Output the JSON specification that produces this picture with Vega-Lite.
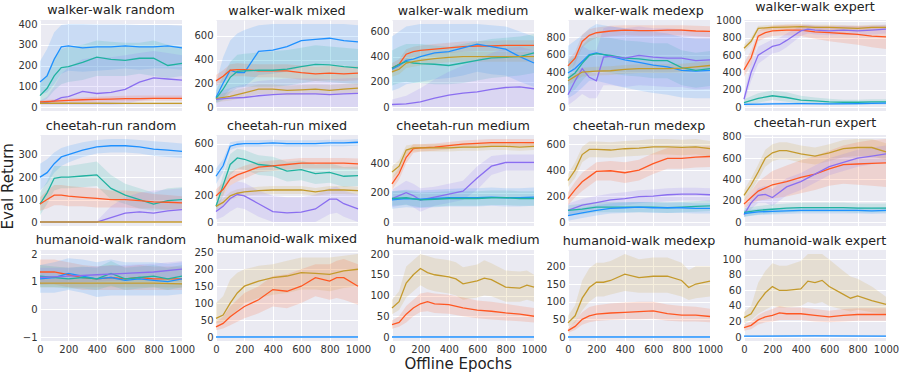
{
"$schema":"https://vega.github.io/schema/vega-lite/v6.json",
"padding":{"left":0,"top":0,"right":10,"bottom":0},
"background":"white",
"config":{"font":"DejaVu Sans","view":{"fill":"#EAEAF2","stroke":null},
"axis":{"domain":false,"ticks":false,"gridColor":"white","gridWidth":1,"labelFontSize":10,"labelColor":"#333","labelPadding":3,"format":"d"},
"axisY":{"tickCount":4},
"axisX":{"labelOverlap":false,"labelFlush":false,"labelBound":false},
"header":{"labelFontSize":12.7,"labelColor":"#222","labelPadding":2},
"title":{"fontWeight":"normal","fontSize":15,"color":"#222","anchor":"middle"}},
"title":{"text":"Eval Return","orient":"left","offset":2,"anchor":"middle"},
"vconcat":[{
"title":{"text":"Offline Epochs","orient":"bottom","offset":3,"anchor":"middle"},
"bounds":"flush",
"data":{"values":[
{"p":"A1","s":"B","x":0,"y":120,"lo":60,"hi":220},{"p":"A1","s":"B","x":50,"y":150,"lo":70,"hi":280},{"p":"A1","s":"B","x":100,"y":230,"lo":110,"hi":360},{"p":"A1","s":"B","x":150,"y":290,"lo":160,"hi":395},{"p":"A1","s":"B","x":200,"y":295,"lo":175,"hi":400},{"p":"A1","s":"B","x":300,"y":285,"lo":170,"hi":400},{"p":"A1","s":"B","x":400,"y":290,"lo":175,"hi":398},{"p":"A1","s":"B","x":500,"y":290,"lo":180,"hi":398},{"p":"A1","s":"B","x":600,"y":295,"lo":185,"hi":398},{"p":"A1","s":"B","x":700,"y":290,"lo":180,"hi":395},{"p":"A1","s":"B","x":800,"y":290,"lo":185,"hi":395},{"p":"A1","s":"B","x":900,"y":295,"lo":185,"hi":395},{"p":"A1","s":"B","x":1000,"y":285,"lo":180,"hi":392},
{"p":"A1","s":"T","x":0,"y":55,"lo":20,"hi":110},{"p":"A1","s":"T","x":50,"y":90,"lo":40,"hi":160},{"p":"A1","s":"T","x":100,"y":150,"lo":80,"hi":240},{"p":"A1","s":"T","x":150,"y":190,"lo":110,"hi":280},{"p":"A1","s":"T","x":200,"y":195,"lo":120,"hi":290},{"p":"A1","s":"T","x":300,"y":215,"lo":130,"hi":300},{"p":"A1","s":"T","x":400,"y":240,"lo":150,"hi":320},{"p":"A1","s":"T","x":500,"y":230,"lo":150,"hi":315},{"p":"A1","s":"T","x":600,"y":225,"lo":150,"hi":310},{"p":"A1","s":"T","x":700,"y":235,"lo":160,"hi":310},{"p":"A1","s":"T","x":800,"y":235,"lo":150,"hi":320},{"p":"A1","s":"T","x":900,"y":200,"lo":140,"hi":300},{"p":"A1","s":"T","x":1000,"y":210,"lo":150,"hi":290},
{"p":"A1","s":"P","x":0,"y":20,"lo":10,"hi":30},{"p":"A1","s":"P","x":50,"y":22,"lo":10,"hi":50},{"p":"A1","s":"P","x":100,"y":30,"lo":10,"hi":100},{"p":"A1","s":"P","x":150,"y":45,"lo":10,"hi":160},{"p":"A1","s":"P","x":200,"y":50,"lo":10,"hi":190},{"p":"A1","s":"P","x":300,"y":75,"lo":10,"hi":230},{"p":"A1","s":"P","x":400,"y":65,"lo":10,"hi":240},{"p":"A1","s":"P","x":500,"y":70,"lo":10,"hi":240},{"p":"A1","s":"P","x":600,"y":85,"lo":15,"hi":250},{"p":"A1","s":"P","x":700,"y":120,"lo":30,"hi":260},{"p":"A1","s":"P","x":800,"y":140,"lo":40,"hi":270},{"p":"A1","s":"P","x":900,"y":135,"lo":40,"hi":260},{"p":"A1","s":"P","x":1000,"y":130,"lo":40,"hi":250},
{"p":"A1","s":"R","x":0,"y":25,"lo":18,"hi":32},{"p":"A1","s":"R","x":100,"y":28,"lo":20,"hi":36},{"p":"A1","s":"R","x":200,"y":32,"lo":22,"hi":42},{"p":"A1","s":"R","x":300,"y":35,"lo":24,"hi":46},{"p":"A1","s":"R","x":400,"y":37,"lo":25,"hi":50},{"p":"A1","s":"R","x":500,"y":38,"lo":26,"hi":52},{"p":"A1","s":"R","x":600,"y":40,"lo":28,"hi":54},{"p":"A1","s":"R","x":700,"y":40,"lo":28,"hi":55},{"p":"A1","s":"R","x":800,"y":42,"lo":30,"hi":56},{"p":"A1","s":"R","x":900,"y":42,"lo":30,"hi":56},{"p":"A1","s":"R","x":1000,"y":42,"lo":30,"hi":55},
{"p":"A1","s":"G","x":0,"y":18,"lo":14,"hi":22},{"p":"A1","s":"G","x":200,"y":18,"lo":14,"hi":22},{"p":"A1","s":"G","x":400,"y":18,"lo":14,"hi":22},{"p":"A1","s":"G","x":600,"y":17,"lo":13,"hi":21},{"p":"A1","s":"G","x":800,"y":17,"lo":13,"hi":21},{"p":"A1","s":"G","x":1000,"y":17,"lo":13,"hi":21},
{"p":"A2","s":"B","x":0,"y":80,"lo":40,"hi":200},{"p":"A2","s":"B","x":50,"y":200,"lo":80,"hi":420},{"p":"A2","s":"B","x":100,"y":310,"lo":150,"hi":560},{"p":"A2","s":"B","x":150,"y":290,"lo":170,"hi":620},{"p":"A2","s":"B","x":200,"y":290,"lo":170,"hi":650},{"p":"A2","s":"B","x":300,"y":470,"lo":270,"hi":690},{"p":"A2","s":"B","x":400,"y":480,"lo":280,"hi":700},{"p":"A2","s":"B","x":500,"y":510,"lo":300,"hi":700},{"p":"A2","s":"B","x":600,"y":560,"lo":340,"hi":700},{"p":"A2","s":"B","x":700,"y":570,"lo":350,"hi":700},{"p":"A2","s":"B","x":800,"y":580,"lo":360,"hi":700},{"p":"A2","s":"B","x":900,"y":560,"lo":350,"hi":700},{"p":"A2","s":"B","x":1000,"y":550,"lo":340,"hi":690},
{"p":"A2","s":"R","x":0,"y":220,"lo":180,"hi":270},{"p":"A2","s":"R","x":50,"y":260,"lo":210,"hi":310},{"p":"A2","s":"R","x":100,"y":310,"lo":260,"hi":360},{"p":"A2","s":"R","x":150,"y":315,"lo":260,"hi":370},{"p":"A2","s":"R","x":200,"y":315,"lo":260,"hi":365},{"p":"A2","s":"R","x":300,"y":305,"lo":250,"hi":360},{"p":"A2","s":"R","x":400,"y":305,"lo":250,"hi":360},{"p":"A2","s":"R","x":500,"y":305,"lo":245,"hi":360},{"p":"A2","s":"R","x":600,"y":290,"lo":230,"hi":350},{"p":"A2","s":"R","x":700,"y":280,"lo":220,"hi":340},{"p":"A2","s":"R","x":800,"y":285,"lo":225,"hi":345},{"p":"A2","s":"R","x":900,"y":280,"lo":220,"hi":340},{"p":"A2","s":"R","x":1000,"y":285,"lo":225,"hi":345},
{"p":"A2","s":"T","x":0,"y":70,"lo":30,"hi":140},{"p":"A2","s":"T","x":50,"y":150,"lo":60,"hi":260},{"p":"A2","s":"T","x":100,"y":250,"lo":120,"hi":380},{"p":"A2","s":"T","x":150,"y":300,"lo":160,"hi":440},{"p":"A2","s":"T","x":200,"y":305,"lo":170,"hi":450},{"p":"A2","s":"T","x":300,"y":310,"lo":170,"hi":460},{"p":"A2","s":"T","x":400,"y":310,"lo":170,"hi":470},{"p":"A2","s":"T","x":500,"y":320,"lo":180,"hi":480},{"p":"A2","s":"T","x":600,"y":340,"lo":200,"hi":500},{"p":"A2","s":"T","x":700,"y":360,"lo":220,"hi":520},{"p":"A2","s":"T","x":800,"y":355,"lo":210,"hi":510},{"p":"A2","s":"T","x":900,"y":340,"lo":200,"hi":500},{"p":"A2","s":"T","x":1000,"y":330,"lo":190,"hi":490},
{"p":"A2","s":"G","x":0,"y":70,"lo":40,"hi":100},{"p":"A2","s":"G","x":100,"y":90,"lo":55,"hi":130},{"p":"A2","s":"G","x":200,"y":120,"lo":80,"hi":160},{"p":"A2","s":"G","x":300,"y":150,"lo":110,"hi":190},{"p":"A2","s":"G","x":400,"y":150,"lo":110,"hi":190},{"p":"A2","s":"G","x":500,"y":140,"lo":100,"hi":180},{"p":"A2","s":"G","x":600,"y":145,"lo":105,"hi":185},{"p":"A2","s":"G","x":700,"y":150,"lo":110,"hi":190},{"p":"A2","s":"G","x":800,"y":140,"lo":100,"hi":185},{"p":"A2","s":"G","x":900,"y":150,"lo":110,"hi":195},{"p":"A2","s":"G","x":1000,"y":160,"lo":120,"hi":200},
{"p":"A2","s":"P","x":0,"y":65,"lo":0,"hi":120},{"p":"A2","s":"P","x":100,"y":75,"lo":0,"hi":160},{"p":"A2","s":"P","x":200,"y":80,"lo":0,"hi":190},{"p":"A2","s":"P","x":300,"y":95,"lo":0,"hi":220},{"p":"A2","s":"P","x":400,"y":105,"lo":0,"hi":230},{"p":"A2","s":"P","x":500,"y":110,"lo":0,"hi":240},{"p":"A2","s":"P","x":600,"y":110,"lo":0,"hi":240},{"p":"A2","s":"P","x":700,"y":110,"lo":0,"hi":240},{"p":"A2","s":"P","x":800,"y":105,"lo":0,"hi":235},{"p":"A2","s":"P","x":900,"y":110,"lo":0,"hi":240},{"p":"A2","s":"P","x":1000,"y":115,"lo":0,"hi":245},
{"p":"A3","s":"R","x":0,"y":310,"lo":270,"hi":350},{"p":"A3","s":"R","x":50,"y":340,"lo":300,"hi":380},{"p":"A3","s":"R","x":100,"y":420,"lo":380,"hi":460},{"p":"A3","s":"R","x":150,"y":440,"lo":400,"hi":480},{"p":"A3","s":"R","x":200,"y":450,"lo":410,"hi":490},{"p":"A3","s":"R","x":300,"y":460,"lo":420,"hi":500},{"p":"A3","s":"R","x":400,"y":470,"lo":430,"hi":510},{"p":"A3","s":"R","x":500,"y":480,"lo":440,"hi":520},{"p":"A3","s":"R","x":600,"y":485,"lo":445,"hi":525},{"p":"A3","s":"R","x":700,"y":485,"lo":445,"hi":525},{"p":"A3","s":"R","x":800,"y":490,"lo":450,"hi":530},{"p":"A3","s":"R","x":900,"y":490,"lo":450,"hi":530},{"p":"A3","s":"R","x":1000,"y":490,"lo":450,"hi":530},
{"p":"A3","s":"B","x":0,"y":300,"lo":130,"hi":560},{"p":"A3","s":"B","x":50,"y":330,"lo":150,"hi":600},{"p":"A3","s":"B","x":100,"y":370,"lo":180,"hi":640},{"p":"A3","s":"B","x":150,"y":380,"lo":190,"hi":650},{"p":"A3","s":"B","x":200,"y":400,"lo":200,"hi":660},{"p":"A3","s":"B","x":300,"y":430,"lo":220,"hi":660},{"p":"A3","s":"B","x":400,"y":440,"lo":230,"hi":660},{"p":"A3","s":"B","x":500,"y":470,"lo":250,"hi":660},{"p":"A3","s":"B","x":600,"y":500,"lo":280,"hi":660},{"p":"A3","s":"B","x":700,"y":480,"lo":260,"hi":650},{"p":"A3","s":"B","x":800,"y":460,"lo":250,"hi":640},{"p":"A3","s":"B","x":900,"y":400,"lo":200,"hi":600},{"p":"A3","s":"B","x":1000,"y":350,"lo":160,"hi":560},
{"p":"A3","s":"T","x":0,"y":310,"lo":170,"hi":450},{"p":"A3","s":"T","x":50,"y":340,"lo":190,"hi":480},{"p":"A3","s":"T","x":100,"y":360,"lo":200,"hi":500},{"p":"A3","s":"T","x":150,"y":350,"lo":190,"hi":500},{"p":"A3","s":"T","x":200,"y":345,"lo":190,"hi":500},{"p":"A3","s":"T","x":300,"y":340,"lo":180,"hi":490},{"p":"A3","s":"T","x":400,"y":330,"lo":180,"hi":480},{"p":"A3","s":"T","x":500,"y":350,"lo":190,"hi":500},{"p":"A3","s":"T","x":600,"y":370,"lo":210,"hi":520},{"p":"A3","s":"T","x":700,"y":390,"lo":230,"hi":540},{"p":"A3","s":"T","x":800,"y":395,"lo":240,"hi":550},{"p":"A3","s":"T","x":900,"y":400,"lo":250,"hi":560},{"p":"A3","s":"T","x":1000,"y":430,"lo":270,"hi":580},
{"p":"A3","s":"G","x":0,"y":280,"lo":240,"hi":320},{"p":"A3","s":"G","x":50,"y":300,"lo":260,"hi":340},{"p":"A3","s":"G","x":100,"y":350,"lo":310,"hi":390},{"p":"A3","s":"G","x":150,"y":360,"lo":320,"hi":400},{"p":"A3","s":"G","x":200,"y":370,"lo":330,"hi":410},{"p":"A3","s":"G","x":300,"y":385,"lo":345,"hi":425},{"p":"A3","s":"G","x":400,"y":395,"lo":355,"hi":435},{"p":"A3","s":"G","x":500,"y":400,"lo":360,"hi":440},{"p":"A3","s":"G","x":600,"y":400,"lo":360,"hi":440},{"p":"A3","s":"G","x":700,"y":400,"lo":360,"hi":440},{"p":"A3","s":"G","x":800,"y":400,"lo":360,"hi":440},{"p":"A3","s":"G","x":900,"y":400,"lo":360,"hi":440},{"p":"A3","s":"G","x":1000,"y":400,"lo":360,"hi":440},
{"p":"A3","s":"P","x":0,"y":20,"lo":0,"hi":60},{"p":"A3","s":"P","x":100,"y":25,"lo":0,"hi":90},{"p":"A3","s":"P","x":200,"y":40,"lo":0,"hi":150},{"p":"A3","s":"P","x":300,"y":70,"lo":0,"hi":220},{"p":"A3","s":"P","x":400,"y":95,"lo":0,"hi":280},{"p":"A3","s":"P","x":500,"y":110,"lo":0,"hi":330},{"p":"A3","s":"P","x":600,"y":120,"lo":0,"hi":380},{"p":"A3","s":"P","x":700,"y":140,"lo":0,"hi":430},{"p":"A3","s":"P","x":800,"y":155,"lo":0,"hi":470},{"p":"A3","s":"P","x":900,"y":160,"lo":0,"hi":480},{"p":"A3","s":"P","x":1000,"y":145,"lo":0,"hi":450},
{"p":"A4","s":"R","x":0,"y":470,"lo":400,"hi":540},{"p":"A4","s":"R","x":50,"y":560,"lo":490,"hi":630},{"p":"A4","s":"R","x":100,"y":750,"lo":680,"hi":830},{"p":"A4","s":"R","x":150,"y":820,"lo":750,"hi":890},{"p":"A4","s":"R","x":200,"y":850,"lo":790,"hi":910},{"p":"A4","s":"R","x":300,"y":870,"lo":810,"hi":930},{"p":"A4","s":"R","x":400,"y":880,"lo":820,"hi":935},{"p":"A4","s":"R","x":500,"y":875,"lo":815,"hi":935},{"p":"A4","s":"R","x":600,"y":875,"lo":815,"hi":935},{"p":"A4","s":"R","x":700,"y":880,"lo":820,"hi":935},{"p":"A4","s":"R","x":800,"y":880,"lo":820,"hi":935},{"p":"A4","s":"R","x":900,"y":870,"lo":810,"hi":930},{"p":"A4","s":"R","x":1000,"y":865,"lo":800,"hi":925},
{"p":"A4","s":"B","x":0,"y":390,"lo":100,"hi":700},{"p":"A4","s":"B","x":50,"y":440,"lo":150,"hi":760},{"p":"A4","s":"B","x":100,"y":520,"lo":220,"hi":820},{"p":"A4","s":"B","x":150,"y":600,"lo":300,"hi":900},{"p":"A4","s":"B","x":200,"y":620,"lo":300,"hi":950},{"p":"A4","s":"B","x":300,"y":580,"lo":260,"hi":920},{"p":"A4","s":"B","x":400,"y":540,"lo":220,"hi":900},{"p":"A4","s":"B","x":500,"y":510,"lo":190,"hi":880},{"p":"A4","s":"B","x":600,"y":480,"lo":160,"hi":860},{"p":"A4","s":"B","x":700,"y":460,"lo":140,"hi":840},{"p":"A4","s":"B","x":800,"y":420,"lo":110,"hi":800},{"p":"A4","s":"B","x":900,"y":410,"lo":100,"hi":780},{"p":"A4","s":"B","x":1000,"y":420,"lo":100,"hi":780},
{"p":"A4","s":"T","x":0,"y":330,"lo":150,"hi":520},{"p":"A4","s":"T","x":50,"y":390,"lo":200,"hi":580},{"p":"A4","s":"T","x":100,"y":500,"lo":300,"hi":700},{"p":"A4","s":"T","x":150,"y":590,"lo":390,"hi":790},{"p":"A4","s":"T","x":200,"y":610,"lo":410,"hi":800},{"p":"A4","s":"T","x":300,"y":590,"lo":390,"hi":790},{"p":"A4","s":"T","x":400,"y":560,"lo":360,"hi":760},{"p":"A4","s":"T","x":500,"y":550,"lo":350,"hi":750},{"p":"A4","s":"T","x":600,"y":530,"lo":330,"hi":730},{"p":"A4","s":"T","x":700,"y":530,"lo":330,"hi":730},{"p":"A4","s":"T","x":800,"y":450,"lo":250,"hi":650},{"p":"A4","s":"T","x":900,"y":420,"lo":220,"hi":620},{"p":"A4","s":"T","x":1000,"y":440,"lo":240,"hi":640},
{"p":"A4","s":"P","x":0,"y":140,"lo":20,"hi":300},{"p":"A4","s":"P","x":50,"y":300,"lo":80,"hi":550},{"p":"A4","s":"P","x":100,"y":440,"lo":150,"hi":700},{"p":"A4","s":"P","x":150,"y":340,"lo":100,"hi":650},{"p":"A4","s":"P","x":200,"y":300,"lo":100,"hi":650},{"p":"A4","s":"P","x":250,"y":570,"lo":250,"hi":900},{"p":"A4","s":"P","x":300,"y":580,"lo":250,"hi":920},{"p":"A4","s":"P","x":400,"y":560,"lo":230,"hi":900},{"p":"A4","s":"P","x":500,"y":590,"lo":250,"hi":920},{"p":"A4","s":"P","x":600,"y":570,"lo":240,"hi":900},{"p":"A4","s":"P","x":700,"y":560,"lo":230,"hi":900},{"p":"A4","s":"P","x":800,"y":560,"lo":230,"hi":890},{"p":"A4","s":"P","x":900,"y":530,"lo":200,"hi":860},{"p":"A4","s":"P","x":1000,"y":540,"lo":210,"hi":870},
{"p":"A4","s":"G","x":0,"y":300,"lo":250,"hi":350},{"p":"A4","s":"G","x":50,"y":350,"lo":300,"hi":400},{"p":"A4","s":"G","x":100,"y":400,"lo":350,"hi":450},{"p":"A4","s":"G","x":200,"y":410,"lo":360,"hi":460},{"p":"A4","s":"G","x":300,"y":415,"lo":365,"hi":465},{"p":"A4","s":"G","x":400,"y":430,"lo":380,"hi":480},{"p":"A4","s":"G","x":500,"y":440,"lo":390,"hi":490},{"p":"A4","s":"G","x":600,"y":440,"lo":390,"hi":490},{"p":"A4","s":"G","x":700,"y":440,"lo":390,"hi":490},{"p":"A4","s":"G","x":800,"y":445,"lo":395,"hi":495},{"p":"A4","s":"G","x":900,"y":460,"lo":410,"hi":510},{"p":"A4","s":"G","x":1000,"y":475,"lo":425,"hi":525},
{"p":"A5","s":"G","x":0,"y":680,"lo":640,"hi":720},{"p":"A5","s":"G","x":50,"y":760,"lo":720,"hi":800},{"p":"A5","s":"G","x":100,"y":910,"lo":880,"hi":940},{"p":"A5","s":"G","x":200,"y":920,"lo":890,"hi":950},{"p":"A5","s":"G","x":300,"y":925,"lo":895,"hi":955},{"p":"A5","s":"G","x":400,"y":930,"lo":900,"hi":960},{"p":"A5","s":"G","x":500,"y":920,"lo":890,"hi":950},{"p":"A5","s":"G","x":600,"y":920,"lo":890,"hi":950},{"p":"A5","s":"G","x":700,"y":915,"lo":885,"hi":945},{"p":"A5","s":"G","x":800,"y":910,"lo":880,"hi":940},{"p":"A5","s":"G","x":900,"y":920,"lo":890,"hi":950},{"p":"A5","s":"G","x":1000,"y":920,"lo":890,"hi":950},
{"p":"A5","s":"R","x":0,"y":430,"lo":350,"hi":510},{"p":"A5","s":"R","x":50,"y":570,"lo":490,"hi":650},{"p":"A5","s":"R","x":100,"y":820,"lo":760,"hi":880},{"p":"A5","s":"R","x":150,"y":860,"lo":800,"hi":920},{"p":"A5","s":"R","x":200,"y":880,"lo":820,"hi":940},{"p":"A5","s":"R","x":300,"y":890,"lo":830,"hi":950},{"p":"A5","s":"R","x":400,"y":890,"lo":820,"hi":950},{"p":"A5","s":"R","x":500,"y":870,"lo":790,"hi":940},{"p":"A5","s":"R","x":600,"y":860,"lo":760,"hi":940},{"p":"A5","s":"R","x":700,"y":850,"lo":740,"hi":940},{"p":"A5","s":"R","x":800,"y":840,"lo":720,"hi":940},{"p":"A5","s":"R","x":900,"y":820,"lo":690,"hi":940},{"p":"A5","s":"R","x":1000,"y":810,"lo":670,"hi":940},
{"p":"A5","s":"P","x":0,"y":90,"lo":40,"hi":160},{"p":"A5","s":"P","x":50,"y":400,"lo":300,"hi":500},{"p":"A5","s":"P","x":100,"y":600,"lo":500,"hi":700},{"p":"A5","s":"P","x":150,"y":650,"lo":560,"hi":740},{"p":"A5","s":"P","x":200,"y":700,"lo":620,"hi":780},{"p":"A5","s":"P","x":250,"y":720,"lo":640,"hi":800},{"p":"A5","s":"P","x":300,"y":770,"lo":690,"hi":850},{"p":"A5","s":"P","x":400,"y":880,"lo":820,"hi":940},{"p":"A5","s":"P","x":450,"y":900,"lo":850,"hi":950},{"p":"A5","s":"P","x":500,"y":890,"lo":840,"hi":940},{"p":"A5","s":"P","x":600,"y":880,"lo":830,"hi":930},{"p":"A5","s":"P","x":700,"y":890,"lo":840,"hi":940},{"p":"A5","s":"P","x":800,"y":880,"lo":830,"hi":930},{"p":"A5","s":"P","x":900,"y":890,"lo":840,"hi":940},{"p":"A5","s":"P","x":1000,"y":900,"lo":850,"hi":950},
{"p":"A5","s":"T","x":0,"y":50,"lo":20,"hi":90},{"p":"A5","s":"T","x":100,"y":100,"lo":50,"hi":160},{"p":"A5","s":"T","x":200,"y":130,"lo":80,"hi":190},{"p":"A5","s":"T","x":300,"y":110,"lo":60,"hi":170},{"p":"A5","s":"T","x":400,"y":80,"lo":40,"hi":130},{"p":"A5","s":"T","x":500,"y":70,"lo":35,"hi":110},{"p":"A5","s":"T","x":600,"y":60,"lo":30,"hi":95},{"p":"A5","s":"T","x":700,"y":55,"lo":30,"hi":85},{"p":"A5","s":"T","x":800,"y":55,"lo":30,"hi":85},{"p":"A5","s":"T","x":900,"y":60,"lo":35,"hi":90},{"p":"A5","s":"T","x":1000,"y":60,"lo":35,"hi":90},
{"p":"A5","s":"B","x":0,"y":30,"lo":20,"hi":45},{"p":"A5","s":"B","x":200,"y":35,"lo":25,"hi":50},{"p":"A5","s":"B","x":400,"y":38,"lo":26,"hi":52},{"p":"A5","s":"B","x":600,"y":35,"lo":25,"hi":50},{"p":"A5","s":"B","x":800,"y":38,"lo":26,"hi":55},{"p":"A5","s":"B","x":1000,"y":45,"lo":30,"hi":65},
{"p":"B1","s":"B","x":0,"y":200,"lo":140,"hi":260},{"p":"B1","s":"B","x":50,"y":220,"lo":170,"hi":280},{"p":"B1","s":"B","x":100,"y":260,"lo":220,"hi":310},{"p":"B1","s":"B","x":150,"y":290,"lo":250,"hi":330},{"p":"B1","s":"B","x":200,"y":300,"lo":265,"hi":340},{"p":"B1","s":"B","x":300,"y":320,"lo":290,"hi":355},{"p":"B1","s":"B","x":400,"y":335,"lo":305,"hi":365},{"p":"B1","s":"B","x":500,"y":340,"lo":310,"hi":370},{"p":"B1","s":"B","x":600,"y":340,"lo":310,"hi":370},{"p":"B1","s":"B","x":700,"y":335,"lo":305,"hi":365},{"p":"B1","s":"B","x":800,"y":325,"lo":295,"hi":360},{"p":"B1","s":"B","x":900,"y":320,"lo":290,"hi":355},{"p":"B1","s":"B","x":1000,"y":315,"lo":285,"hi":350},
{"p":"B1","s":"T","x":0,"y":80,"lo":30,"hi":130},{"p":"B1","s":"T","x":50,"y":130,"lo":80,"hi":180},{"p":"B1","s":"T","x":100,"y":195,"lo":140,"hi":250},{"p":"B1","s":"T","x":150,"y":200,"lo":150,"hi":250},{"p":"B1","s":"T","x":200,"y":200,"lo":150,"hi":250},{"p":"B1","s":"T","x":300,"y":205,"lo":155,"hi":260},{"p":"B1","s":"T","x":400,"y":210,"lo":160,"hi":270},{"p":"B1","s":"T","x":500,"y":150,"lo":100,"hi":210},{"p":"B1","s":"T","x":600,"y":120,"lo":80,"hi":170},{"p":"B1","s":"T","x":700,"y":100,"lo":60,"hi":150},{"p":"B1","s":"T","x":800,"y":80,"lo":50,"hi":130},{"p":"B1","s":"T","x":900,"y":95,"lo":55,"hi":150},{"p":"B1","s":"T","x":1000,"y":100,"lo":60,"hi":155},
{"p":"B1","s":"R","x":0,"y":80,"lo":50,"hi":110},{"p":"B1","s":"R","x":50,"y":100,"lo":60,"hi":140},{"p":"B1","s":"R","x":100,"y":120,"lo":75,"hi":165},{"p":"B1","s":"R","x":150,"y":120,"lo":75,"hi":165},{"p":"B1","s":"R","x":200,"y":115,"lo":70,"hi":160},{"p":"B1","s":"R","x":300,"y":110,"lo":70,"hi":155},{"p":"B1","s":"R","x":400,"y":105,"lo":65,"hi":150},{"p":"B1","s":"R","x":500,"y":100,"lo":65,"hi":140},{"p":"B1","s":"R","x":600,"y":100,"lo":65,"hi":140},{"p":"B1","s":"R","x":700,"y":95,"lo":60,"hi":135},{"p":"B1","s":"R","x":800,"y":90,"lo":60,"hi":125},{"p":"B1","s":"R","x":900,"y":88,"lo":55,"hi":120},{"p":"B1","s":"R","x":1000,"y":85,"lo":55,"hi":115},
{"p":"B1","s":"P","x":0,"y":0,"lo":0,"hi":0},{"p":"B1","s":"P","x":200,"y":0,"lo":0,"hi":0},{"p":"B1","s":"P","x":400,"y":0,"lo":0,"hi":5},{"p":"B1","s":"P","x":500,"y":20,"lo":0,"hi":70},{"p":"B1","s":"P","x":600,"y":40,"lo":0,"hi":110},{"p":"B1","s":"P","x":700,"y":45,"lo":0,"hi":130},{"p":"B1","s":"P","x":800,"y":40,"lo":0,"hi":140},{"p":"B1","s":"P","x":900,"y":50,"lo":0,"hi":145},{"p":"B1","s":"P","x":1000,"y":55,"lo":0,"hi":150},
{"p":"B1","s":"G","x":0,"y":0,"lo":0,"hi":0},{"p":"B1","s":"G","x":500,"y":0,"lo":0,"hi":0},{"p":"B1","s":"G","x":1000,"y":0,"lo":0,"hi":0},
{"p":"B2","s":"B","x":0,"y":350,"lo":290,"hi":410},{"p":"B2","s":"B","x":50,"y":430,"lo":380,"hi":480},{"p":"B2","s":"B","x":100,"y":580,"lo":550,"hi":610},{"p":"B2","s":"B","x":150,"y":595,"lo":570,"hi":620},{"p":"B2","s":"B","x":200,"y":600,"lo":575,"hi":625},{"p":"B2","s":"B","x":300,"y":600,"lo":575,"hi":625},{"p":"B2","s":"B","x":400,"y":605,"lo":580,"hi":630},{"p":"B2","s":"B","x":500,"y":600,"lo":575,"hi":625},{"p":"B2","s":"B","x":600,"y":600,"lo":575,"hi":625},{"p":"B2","s":"B","x":700,"y":600,"lo":575,"hi":625},{"p":"B2","s":"B","x":800,"y":605,"lo":580,"hi":630},{"p":"B2","s":"B","x":900,"y":605,"lo":580,"hi":630},{"p":"B2","s":"B","x":1000,"y":610,"lo":585,"hi":635},
{"p":"B2","s":"T","x":0,"y":120,"lo":70,"hi":180},{"p":"B2","s":"T","x":50,"y":280,"lo":200,"hi":360},{"p":"B2","s":"T","x":100,"y":440,"lo":360,"hi":520},{"p":"B2","s":"T","x":150,"y":490,"lo":410,"hi":560},{"p":"B2","s":"T","x":200,"y":480,"lo":400,"hi":550},{"p":"B2","s":"T","x":300,"y":440,"lo":360,"hi":510},{"p":"B2","s":"T","x":400,"y":430,"lo":350,"hi":500},{"p":"B2","s":"T","x":500,"y":390,"lo":310,"hi":460},{"p":"B2","s":"T","x":600,"y":400,"lo":320,"hi":470},{"p":"B2","s":"T","x":700,"y":370,"lo":290,"hi":440},{"p":"B2","s":"T","x":800,"y":380,"lo":300,"hi":450},{"p":"B2","s":"T","x":900,"y":350,"lo":270,"hi":420},{"p":"B2","s":"T","x":1000,"y":355,"lo":275,"hi":425},
{"p":"B2","s":"R","x":0,"y":200,"lo":160,"hi":250},{"p":"B2","s":"R","x":50,"y":250,"lo":200,"hi":300},{"p":"B2","s":"R","x":100,"y":330,"lo":280,"hi":380},{"p":"B2","s":"R","x":150,"y":360,"lo":310,"hi":410},{"p":"B2","s":"R","x":200,"y":380,"lo":330,"hi":430},{"p":"B2","s":"R","x":300,"y":420,"lo":380,"hi":460},{"p":"B2","s":"R","x":400,"y":430,"lo":390,"hi":470},{"p":"B2","s":"R","x":500,"y":440,"lo":400,"hi":480},{"p":"B2","s":"R","x":600,"y":450,"lo":410,"hi":490},{"p":"B2","s":"R","x":700,"y":450,"lo":410,"hi":490},{"p":"B2","s":"R","x":800,"y":450,"lo":410,"hi":490},{"p":"B2","s":"R","x":900,"y":450,"lo":410,"hi":490},{"p":"B2","s":"R","x":1000,"y":445,"lo":405,"hi":485},
{"p":"B2","s":"G","x":0,"y":120,"lo":90,"hi":150},{"p":"B2","s":"G","x":50,"y":150,"lo":120,"hi":180},{"p":"B2","s":"G","x":100,"y":200,"lo":170,"hi":230},{"p":"B2","s":"G","x":150,"y":220,"lo":190,"hi":250},{"p":"B2","s":"G","x":200,"y":230,"lo":200,"hi":260},{"p":"B2","s":"G","x":300,"y":240,"lo":210,"hi":270},{"p":"B2","s":"G","x":400,"y":245,"lo":215,"hi":275},{"p":"B2","s":"G","x":500,"y":245,"lo":215,"hi":275},{"p":"B2","s":"G","x":600,"y":245,"lo":215,"hi":275},{"p":"B2","s":"G","x":700,"y":230,"lo":200,"hi":260},{"p":"B2","s":"G","x":800,"y":245,"lo":215,"hi":275},{"p":"B2","s":"G","x":900,"y":245,"lo":215,"hi":275},{"p":"B2","s":"G","x":1000,"y":240,"lo":210,"hi":270},
{"p":"B2","s":"P","x":0,"y":80,"lo":20,"hi":140},{"p":"B2","s":"P","x":50,"y":120,"lo":40,"hi":200},{"p":"B2","s":"P","x":100,"y":180,"lo":80,"hi":280},{"p":"B2","s":"P","x":150,"y":210,"lo":110,"hi":310},{"p":"B2","s":"P","x":200,"y":200,"lo":100,"hi":300},{"p":"B2","s":"P","x":300,"y":140,"lo":40,"hi":240},{"p":"B2","s":"P","x":400,"y":80,"lo":0,"hi":200},{"p":"B2","s":"P","x":500,"y":70,"lo":0,"hi":190},{"p":"B2","s":"P","x":600,"y":75,"lo":0,"hi":190},{"p":"B2","s":"P","x":700,"y":100,"lo":0,"hi":210},{"p":"B2","s":"P","x":800,"y":175,"lo":60,"hi":260},{"p":"B2","s":"P","x":850,"y":175,"lo":70,"hi":270},{"p":"B2","s":"P","x":900,"y":140,"lo":40,"hi":240},{"p":"B2","s":"P","x":1000,"y":100,"lo":0,"hi":210},
{"p":"B3","s":"R","x":0,"y":260,"lo":220,"hi":300},{"p":"B3","s":"R","x":50,"y":330,"lo":290,"hi":370},{"p":"B3","s":"R","x":100,"y":440,"lo":400,"hi":480},{"p":"B3","s":"R","x":150,"y":500,"lo":470,"hi":530},{"p":"B3","s":"R","x":200,"y":505,"lo":480,"hi":530},{"p":"B3","s":"R","x":300,"y":510,"lo":485,"hi":535},{"p":"B3","s":"R","x":400,"y":520,"lo":495,"hi":545},{"p":"B3","s":"R","x":500,"y":530,"lo":505,"hi":555},{"p":"B3","s":"R","x":600,"y":535,"lo":510,"hi":560},{"p":"B3","s":"R","x":700,"y":540,"lo":515,"hi":565},{"p":"B3","s":"R","x":800,"y":540,"lo":515,"hi":565},{"p":"B3","s":"R","x":900,"y":540,"lo":515,"hi":565},{"p":"B3","s":"R","x":1000,"y":540,"lo":515,"hi":565},
{"p":"B3","s":"G","x":0,"y":340,"lo":300,"hi":380},{"p":"B3","s":"G","x":50,"y":380,"lo":340,"hi":420},{"p":"B3","s":"G","x":100,"y":490,"lo":460,"hi":520},{"p":"B3","s":"G","x":150,"y":505,"lo":480,"hi":530},{"p":"B3","s":"G","x":200,"y":505,"lo":480,"hi":530},{"p":"B3","s":"G","x":300,"y":505,"lo":480,"hi":530},{"p":"B3","s":"G","x":400,"y":505,"lo":480,"hi":530},{"p":"B3","s":"G","x":500,"y":510,"lo":485,"hi":535},{"p":"B3","s":"G","x":600,"y":510,"lo":485,"hi":535},{"p":"B3","s":"G","x":700,"y":515,"lo":490,"hi":540},{"p":"B3","s":"G","x":800,"y":515,"lo":490,"hi":540},{"p":"B3","s":"G","x":900,"y":510,"lo":485,"hi":535},{"p":"B3","s":"G","x":1000,"y":515,"lo":490,"hi":540},
{"p":"B3","s":"P","x":0,"y":160,"lo":100,"hi":220},{"p":"B3","s":"P","x":50,"y":180,"lo":110,"hi":250},{"p":"B3","s":"P","x":100,"y":200,"lo":120,"hi":280},{"p":"B3","s":"P","x":150,"y":180,"lo":100,"hi":260},{"p":"B3","s":"P","x":200,"y":150,"lo":70,"hi":230},{"p":"B3","s":"P","x":300,"y":170,"lo":110,"hi":240},{"p":"B3","s":"P","x":400,"y":190,"lo":130,"hi":260},{"p":"B3","s":"P","x":500,"y":210,"lo":150,"hi":280},{"p":"B3","s":"P","x":600,"y":300,"lo":220,"hi":380},{"p":"B3","s":"P","x":700,"y":380,"lo":320,"hi":450},{"p":"B3","s":"P","x":800,"y":405,"lo":350,"hi":460},{"p":"B3","s":"P","x":900,"y":405,"lo":350,"hi":460},{"p":"B3","s":"P","x":1000,"y":405,"lo":350,"hi":460},
{"p":"B3","s":"B","x":0,"y":150,"lo":90,"hi":210},{"p":"B3","s":"B","x":100,"y":160,"lo":100,"hi":220},{"p":"B3","s":"B","x":200,"y":155,"lo":95,"hi":215},{"p":"B3","s":"B","x":300,"y":160,"lo":100,"hi":220},{"p":"B3","s":"B","x":400,"y":165,"lo":105,"hi":225},{"p":"B3","s":"B","x":500,"y":165,"lo":105,"hi":230},{"p":"B3","s":"B","x":600,"y":165,"lo":105,"hi":230},{"p":"B3","s":"B","x":700,"y":170,"lo":110,"hi":235},{"p":"B3","s":"B","x":800,"y":165,"lo":105,"hi":230},{"p":"B3","s":"B","x":900,"y":165,"lo":105,"hi":230},{"p":"B3","s":"B","x":1000,"y":170,"lo":110,"hi":235},
{"p":"B3","s":"T","x":0,"y":160,"lo":110,"hi":210},{"p":"B3","s":"T","x":100,"y":165,"lo":115,"hi":215},{"p":"B3","s":"T","x":200,"y":150,"lo":100,"hi":200},{"p":"B3","s":"T","x":300,"y":155,"lo":105,"hi":205},{"p":"B3","s":"T","x":400,"y":160,"lo":110,"hi":210},{"p":"B3","s":"T","x":500,"y":160,"lo":110,"hi":210},{"p":"B3","s":"T","x":600,"y":160,"lo":110,"hi":210},{"p":"B3","s":"T","x":700,"y":165,"lo":115,"hi":215},{"p":"B3","s":"T","x":800,"y":165,"lo":115,"hi":215},{"p":"B3","s":"T","x":900,"y":160,"lo":110,"hi":210},{"p":"B3","s":"T","x":1000,"y":160,"lo":110,"hi":210},
{"p":"B4","s":"G","x":0,"y":320,"lo":270,"hi":370},{"p":"B4","s":"G","x":50,"y":400,"lo":340,"hi":460},{"p":"B4","s":"G","x":100,"y":520,"lo":460,"hi":580},{"p":"B4","s":"G","x":150,"y":560,"lo":500,"hi":620},{"p":"B4","s":"G","x":200,"y":560,"lo":500,"hi":620},{"p":"B4","s":"G","x":300,"y":555,"lo":495,"hi":615},{"p":"B4","s":"G","x":400,"y":565,"lo":505,"hi":625},{"p":"B4","s":"G","x":500,"y":570,"lo":510,"hi":630},{"p":"B4","s":"G","x":600,"y":580,"lo":520,"hi":640},{"p":"B4","s":"G","x":700,"y":580,"lo":520,"hi":640},{"p":"B4","s":"G","x":800,"y":575,"lo":515,"hi":635},{"p":"B4","s":"G","x":900,"y":580,"lo":520,"hi":640},{"p":"B4","s":"G","x":1000,"y":565,"lo":505,"hi":625},
{"p":"B4","s":"R","x":0,"y":180,"lo":130,"hi":230},{"p":"B4","s":"R","x":50,"y":250,"lo":190,"hi":310},{"p":"B4","s":"R","x":100,"y":310,"lo":240,"hi":380},{"p":"B4","s":"R","x":150,"y":350,"lo":280,"hi":420},{"p":"B4","s":"R","x":200,"y":390,"lo":320,"hi":460},{"p":"B4","s":"R","x":300,"y":395,"lo":320,"hi":470},{"p":"B4","s":"R","x":400,"y":380,"lo":300,"hi":460},{"p":"B4","s":"R","x":500,"y":400,"lo":320,"hi":480},{"p":"B4","s":"R","x":600,"y":450,"lo":370,"hi":530},{"p":"B4","s":"R","x":700,"y":490,"lo":410,"hi":570},{"p":"B4","s":"R","x":800,"y":490,"lo":410,"hi":570},{"p":"B4","s":"R","x":900,"y":500,"lo":420,"hi":580},{"p":"B4","s":"R","x":1000,"y":505,"lo":425,"hi":585},
{"p":"B4","s":"P","x":0,"y":90,"lo":50,"hi":140},{"p":"B4","s":"P","x":100,"y":130,"lo":80,"hi":180},{"p":"B4","s":"P","x":200,"y":150,"lo":100,"hi":200},{"p":"B4","s":"P","x":300,"y":170,"lo":120,"hi":220},{"p":"B4","s":"P","x":400,"y":180,"lo":130,"hi":230},{"p":"B4","s":"P","x":500,"y":195,"lo":145,"hi":245},{"p":"B4","s":"P","x":600,"y":200,"lo":150,"hi":250},{"p":"B4","s":"P","x":700,"y":210,"lo":160,"hi":260},{"p":"B4","s":"P","x":800,"y":215,"lo":165,"hi":265},{"p":"B4","s":"P","x":900,"y":215,"lo":165,"hi":265},{"p":"B4","s":"P","x":1000,"y":210,"lo":160,"hi":260},
{"p":"B4","s":"T","x":0,"y":90,"lo":50,"hi":130},{"p":"B4","s":"T","x":100,"y":100,"lo":60,"hi":140},{"p":"B4","s":"T","x":200,"y":115,"lo":75,"hi":155},{"p":"B4","s":"T","x":300,"y":115,"lo":75,"hi":155},{"p":"B4","s":"T","x":400,"y":115,"lo":75,"hi":155},{"p":"B4","s":"T","x":500,"y":115,"lo":75,"hi":155},{"p":"B4","s":"T","x":600,"y":115,"lo":75,"hi":155},{"p":"B4","s":"T","x":700,"y":110,"lo":70,"hi":150},{"p":"B4","s":"T","x":800,"y":115,"lo":75,"hi":155},{"p":"B4","s":"T","x":900,"y":120,"lo":80,"hi":160},{"p":"B4","s":"T","x":1000,"y":125,"lo":85,"hi":165},
{"p":"B4","s":"B","x":0,"y":50,"lo":10,"hi":90},{"p":"B4","s":"B","x":100,"y":70,"lo":30,"hi":110},{"p":"B4","s":"B","x":200,"y":90,"lo":50,"hi":130},{"p":"B4","s":"B","x":300,"y":105,"lo":65,"hi":145},{"p":"B4","s":"B","x":400,"y":110,"lo":70,"hi":150},{"p":"B4","s":"B","x":500,"y":115,"lo":75,"hi":155},{"p":"B4","s":"B","x":600,"y":110,"lo":70,"hi":150},{"p":"B4","s":"B","x":700,"y":110,"lo":70,"hi":150},{"p":"B4","s":"B","x":800,"y":110,"lo":70,"hi":150},{"p":"B4","s":"B","x":900,"y":105,"lo":65,"hi":145},{"p":"B4","s":"B","x":1000,"y":105,"lo":65,"hi":145},
{"p":"B5","s":"G","x":0,"y":250,"lo":200,"hi":300},{"p":"B5","s":"G","x":50,"y":350,"lo":290,"hi":410},{"p":"B5","s":"G","x":100,"y":470,"lo":400,"hi":540},{"p":"B5","s":"G","x":150,"y":600,"lo":520,"hi":680},{"p":"B5","s":"G","x":200,"y":650,"lo":570,"hi":730},{"p":"B5","s":"G","x":250,"y":670,"lo":590,"hi":750},{"p":"B5","s":"G","x":300,"y":670,"lo":590,"hi":750},{"p":"B5","s":"G","x":400,"y":640,"lo":560,"hi":720},{"p":"B5","s":"G","x":500,"y":620,"lo":540,"hi":700},{"p":"B5","s":"G","x":600,"y":650,"lo":570,"hi":730},{"p":"B5","s":"G","x":700,"y":690,"lo":610,"hi":770},{"p":"B5","s":"G","x":800,"y":700,"lo":620,"hi":780},{"p":"B5","s":"G","x":900,"y":700,"lo":620,"hi":780},{"p":"B5","s":"G","x":1000,"y":660,"lo":580,"hi":740},
{"p":"B5","s":"R","x":0,"y":170,"lo":130,"hi":210},{"p":"B5","s":"R","x":50,"y":230,"lo":170,"hi":290},{"p":"B5","s":"R","x":100,"y":290,"lo":200,"hi":380},{"p":"B5","s":"R","x":200,"y":350,"lo":220,"hi":480},{"p":"B5","s":"R","x":300,"y":380,"lo":240,"hi":530},{"p":"B5","s":"R","x":400,"y":420,"lo":270,"hi":580},{"p":"B5","s":"R","x":500,"y":450,"lo":300,"hi":620},{"p":"B5","s":"R","x":600,"y":500,"lo":340,"hi":670},{"p":"B5","s":"R","x":700,"y":540,"lo":360,"hi":720},{"p":"B5","s":"R","x":800,"y":545,"lo":350,"hi":750},{"p":"B5","s":"R","x":900,"y":550,"lo":340,"hi":770},{"p":"B5","s":"R","x":1000,"y":555,"lo":330,"hi":780},
{"p":"B5","s":"P","x":0,"y":70,"lo":40,"hi":100},{"p":"B5","s":"P","x":50,"y":180,"lo":120,"hi":240},{"p":"B5","s":"P","x":100,"y":250,"lo":180,"hi":320},{"p":"B5","s":"P","x":150,"y":260,"lo":180,"hi":340},{"p":"B5","s":"P","x":200,"y":230,"lo":150,"hi":310},{"p":"B5","s":"P","x":250,"y":280,"lo":200,"hi":360},{"p":"B5","s":"P","x":300,"y":330,"lo":250,"hi":410},{"p":"B5","s":"P","x":400,"y":380,"lo":300,"hi":460},{"p":"B5","s":"P","x":500,"y":450,"lo":370,"hi":530},{"p":"B5","s":"P","x":600,"y":520,"lo":440,"hi":600},{"p":"B5","s":"P","x":700,"y":560,"lo":480,"hi":640},{"p":"B5","s":"P","x":800,"y":600,"lo":520,"hi":680},{"p":"B5","s":"P","x":900,"y":620,"lo":540,"hi":700},{"p":"B5","s":"P","x":1000,"y":640,"lo":560,"hi":720},
{"p":"B5","s":"T","x":0,"y":90,"lo":50,"hi":130},{"p":"B5","s":"T","x":100,"y":110,"lo":70,"hi":150},{"p":"B5","s":"T","x":200,"y":120,"lo":80,"hi":165},{"p":"B5","s":"T","x":300,"y":130,"lo":90,"hi":175},{"p":"B5","s":"T","x":400,"y":135,"lo":95,"hi":180},{"p":"B5","s":"T","x":500,"y":135,"lo":95,"hi":180},{"p":"B5","s":"T","x":600,"y":135,"lo":95,"hi":180},{"p":"B5","s":"T","x":700,"y":135,"lo":95,"hi":180},{"p":"B5","s":"T","x":800,"y":130,"lo":90,"hi":175},{"p":"B5","s":"T","x":900,"y":130,"lo":90,"hi":175},{"p":"B5","s":"T","x":1000,"y":130,"lo":90,"hi":175},
{"p":"B5","s":"B","x":0,"y":80,"lo":50,"hi":110},{"p":"B5","s":"B","x":100,"y":95,"lo":65,"hi":125},{"p":"B5","s":"B","x":200,"y":100,"lo":70,"hi":130},{"p":"B5","s":"B","x":300,"y":105,"lo":75,"hi":135},{"p":"B5","s":"B","x":400,"y":110,"lo":80,"hi":140},{"p":"B5","s":"B","x":500,"y":110,"lo":80,"hi":140},{"p":"B5","s":"B","x":600,"y":110,"lo":80,"hi":140},{"p":"B5","s":"B","x":700,"y":110,"lo":80,"hi":140},{"p":"B5","s":"B","x":800,"y":110,"lo":80,"hi":140},{"p":"B5","s":"B","x":900,"y":105,"lo":75,"hi":135},{"p":"B5","s":"B","x":1000,"y":110,"lo":80,"hi":140},
{"p":"C1","s":"lim","x":500,"lo":-1,"hi":2},
{"p":"C1","s":"R","x":0,"y":1.35,"lo":0.9,"hi":1.8},{"p":"C1","s":"R","x":100,"y":1.35,"lo":0.9,"hi":1.8},{"p":"C1","s":"R","x":200,"y":1.25,"lo":0.8,"hi":1.7},{"p":"C1","s":"R","x":300,"y":1.15,"lo":0.7,"hi":1.6},{"p":"C1","s":"R","x":400,"y":1.1,"lo":0.7,"hi":1.55},{"p":"C1","s":"R","x":500,"y":1.15,"lo":0.7,"hi":1.6},{"p":"C1","s":"R","x":600,"y":1.1,"lo":0.7,"hi":1.55},{"p":"C1","s":"R","x":700,"y":1.15,"lo":0.7,"hi":1.6},{"p":"C1","s":"R","x":800,"y":1.1,"lo":0.7,"hi":1.55},{"p":"C1","s":"R","x":900,"y":1.1,"lo":0.7,"hi":1.55},{"p":"C1","s":"R","x":1000,"y":1.1,"lo":0.7,"hi":1.55},
{"p":"C1","s":"B","x":0,"y":1.1,"lo":0.6,"hi":1.6},{"p":"C1","s":"B","x":100,"y":1.15,"lo":0.6,"hi":1.7},{"p":"C1","s":"B","x":200,"y":1.3,"lo":0.7,"hi":1.85},{"p":"C1","s":"B","x":300,"y":1.2,"lo":0.6,"hi":1.8},{"p":"C1","s":"B","x":400,"y":1.1,"lo":0.45,"hi":1.7},{"p":"C1","s":"B","x":500,"y":1.15,"lo":0.5,"hi":1.8},{"p":"C1","s":"B","x":600,"y":1.05,"lo":0.5,"hi":1.7},{"p":"C1","s":"B","x":700,"y":1.1,"lo":0.5,"hi":1.7},{"p":"C1","s":"B","x":800,"y":1.05,"lo":0.5,"hi":1.7},{"p":"C1","s":"B","x":900,"y":1.0,"lo":0.5,"hi":1.65},{"p":"C1","s":"B","x":1000,"y":1.1,"lo":0.55,"hi":1.7},
{"p":"C1","s":"T","x":0,"y":1.2,"lo":0.8,"hi":1.6},{"p":"C1","s":"T","x":100,"y":1.15,"lo":0.8,"hi":1.55},{"p":"C1","s":"T","x":200,"y":1.1,"lo":0.75,"hi":1.5},{"p":"C1","s":"T","x":300,"y":1.15,"lo":0.75,"hi":1.55},{"p":"C1","s":"T","x":400,"y":1.1,"lo":0.7,"hi":1.5},{"p":"C1","s":"T","x":500,"y":1.3,"lo":0.85,"hi":1.75},{"p":"C1","s":"T","x":600,"y":1.1,"lo":0.7,"hi":1.5},{"p":"C1","s":"T","x":700,"y":1.15,"lo":0.75,"hi":1.55},{"p":"C1","s":"T","x":800,"y":1.2,"lo":0.8,"hi":1.6},{"p":"C1","s":"T","x":900,"y":1.1,"lo":0.7,"hi":1.5},{"p":"C1","s":"T","x":1000,"y":1.2,"lo":0.8,"hi":1.6},
{"p":"C1","s":"P","x":0,"y":1.15,"lo":0.9,"hi":1.5},{"p":"C1","s":"P","x":200,"y":1.2,"lo":0.95,"hi":1.5},{"p":"C1","s":"P","x":400,"y":1.25,"lo":1.0,"hi":1.55},{"p":"C1","s":"P","x":600,"y":1.3,"lo":1.05,"hi":1.6},{"p":"C1","s":"P","x":800,"y":1.35,"lo":1.1,"hi":1.65},{"p":"C1","s":"P","x":1000,"y":1.45,"lo":1.2,"hi":1.75},
{"p":"C1","s":"G","x":0,"y":0.95,"lo":0.8,"hi":1.1},{"p":"C1","s":"G","x":200,"y":0.95,"lo":0.8,"hi":1.1},{"p":"C1","s":"G","x":400,"y":0.95,"lo":0.8,"hi":1.1},{"p":"C1","s":"G","x":600,"y":0.95,"lo":0.8,"hi":1.1},{"p":"C1","s":"G","x":800,"y":0.95,"lo":0.8,"hi":1.1},{"p":"C1","s":"G","x":1000,"y":0.92,"lo":0.78,"hi":1.08},
{"p":"C2","s":"G","x":0,"y":55,"lo":40,"hi":100},{"p":"C2","s":"G","x":50,"y":65,"lo":45,"hi":120},{"p":"C2","s":"G","x":100,"y":100,"lo":60,"hi":170},{"p":"C2","s":"G","x":150,"y":130,"lo":80,"hi":190},{"p":"C2","s":"G","x":200,"y":150,"lo":100,"hi":200},{"p":"C2","s":"G","x":300,"y":165,"lo":115,"hi":210},{"p":"C2","s":"G","x":400,"y":175,"lo":125,"hi":215},{"p":"C2","s":"G","x":500,"y":180,"lo":130,"hi":225},{"p":"C2","s":"G","x":600,"y":190,"lo":140,"hi":235},{"p":"C2","s":"G","x":700,"y":188,"lo":140,"hi":235},{"p":"C2","s":"G","x":800,"y":185,"lo":135,"hi":235},{"p":"C2","s":"G","x":900,"y":195,"lo":145,"hi":240},{"p":"C2","s":"G","x":1000,"y":200,"lo":150,"hi":245},
{"p":"C2","s":"R","x":0,"y":30,"lo":20,"hi":45},{"p":"C2","s":"R","x":50,"y":40,"lo":25,"hi":60},{"p":"C2","s":"R","x":100,"y":60,"lo":35,"hi":90},{"p":"C2","s":"R","x":150,"y":75,"lo":45,"hi":110},{"p":"C2","s":"R","x":200,"y":90,"lo":55,"hi":130},{"p":"C2","s":"R","x":300,"y":110,"lo":70,"hi":150},{"p":"C2","s":"R","x":400,"y":140,"lo":90,"hi":180},{"p":"C2","s":"R","x":500,"y":135,"lo":85,"hi":185},{"p":"C2","s":"R","x":600,"y":150,"lo":100,"hi":200},{"p":"C2","s":"R","x":700,"y":175,"lo":120,"hi":215},{"p":"C2","s":"R","x":750,"y":170,"lo":115,"hi":215},{"p":"C2","s":"R","x":800,"y":165,"lo":110,"hi":215},{"p":"C2","s":"R","x":850,"y":175,"lo":115,"hi":225},{"p":"C2","s":"R","x":900,"y":175,"lo":110,"hi":230},{"p":"C2","s":"R","x":1000,"y":150,"lo":95,"hi":215},
{"p":"C2","s":"B","x":0,"y":0,"lo":0,"hi":1},{"p":"C2","s":"B","x":500,"y":0,"lo":0,"hi":1},{"p":"C2","s":"B","x":1000,"y":0,"lo":0,"hi":1},
{"p":"C3","s":"G","x":0,"y":70,"lo":55,"hi":90},{"p":"C3","s":"G","x":50,"y":85,"lo":65,"hi":110},{"p":"C3","s":"G","x":100,"y":130,"lo":95,"hi":170},{"p":"C3","s":"G","x":150,"y":150,"lo":110,"hi":185},{"p":"C3","s":"G","x":200,"y":165,"lo":125,"hi":200},{"p":"C3","s":"G","x":250,"y":155,"lo":115,"hi":195},{"p":"C3","s":"G","x":300,"y":150,"lo":110,"hi":190},{"p":"C3","s":"G","x":400,"y":145,"lo":105,"hi":185},{"p":"C3","s":"G","x":450,"y":140,"lo":100,"hi":180},{"p":"C3","s":"G","x":500,"y":128,"lo":90,"hi":168},{"p":"C3","s":"G","x":600,"y":135,"lo":95,"hi":175},{"p":"C3","s":"G","x":650,"y":142,"lo":100,"hi":185},{"p":"C3","s":"G","x":700,"y":138,"lo":98,"hi":178},{"p":"C3","s":"G","x":800,"y":120,"lo":85,"hi":160},{"p":"C3","s":"G","x":900,"y":118,"lo":85,"hi":158},{"p":"C3","s":"G","x":950,"y":125,"lo":90,"hi":160},{"p":"C3","s":"G","x":1000,"y":120,"lo":85,"hi":150},
{"p":"C3","s":"R","x":0,"y":30,"lo":20,"hi":40},{"p":"C3","s":"R","x":50,"y":35,"lo":25,"hi":50},{"p":"C3","s":"R","x":100,"y":55,"lo":35,"hi":75},{"p":"C3","s":"R","x":150,"y":70,"lo":50,"hi":90},{"p":"C3","s":"R","x":200,"y":80,"lo":60,"hi":105},{"p":"C3","s":"R","x":250,"y":85,"lo":62,"hi":108},{"p":"C3","s":"R","x":300,"y":80,"lo":58,"hi":105},{"p":"C3","s":"R","x":400,"y":78,"lo":56,"hi":102},{"p":"C3","s":"R","x":500,"y":70,"lo":50,"hi":95},{"p":"C3","s":"R","x":600,"y":65,"lo":45,"hi":88},{"p":"C3","s":"R","x":700,"y":62,"lo":42,"hi":85},{"p":"C3","s":"R","x":800,"y":58,"lo":40,"hi":80},{"p":"C3","s":"R","x":900,"y":55,"lo":38,"hi":75},{"p":"C3","s":"R","x":1000,"y":50,"lo":35,"hi":70},
{"p":"C3","s":"B","x":0,"y":0,"lo":0,"hi":1},{"p":"C3","s":"B","x":500,"y":0,"lo":0,"hi":1},{"p":"C3","s":"B","x":1000,"y":0,"lo":0,"hi":1},
{"p":"C4","s":"G","x":0,"y":40,"lo":30,"hi":60},{"p":"C4","s":"G","x":50,"y":60,"lo":40,"hi":90},{"p":"C4","s":"G","x":100,"y":110,"lo":75,"hi":160},{"p":"C4","s":"G","x":150,"y":140,"lo":100,"hi":195},{"p":"C4","s":"G","x":200,"y":155,"lo":115,"hi":210},{"p":"C4","s":"G","x":250,"y":155,"lo":115,"hi":210},{"p":"C4","s":"G","x":300,"y":160,"lo":120,"hi":215},{"p":"C4","s":"G","x":400,"y":178,"lo":130,"hi":235},{"p":"C4","s":"G","x":500,"y":168,"lo":125,"hi":220},{"p":"C4","s":"G","x":600,"y":172,"lo":125,"hi":225},{"p":"C4","s":"G","x":700,"y":172,"lo":125,"hi":225},{"p":"C4","s":"G","x":800,"y":160,"lo":115,"hi":210},{"p":"C4","s":"G","x":850,"y":140,"lo":105,"hi":190},{"p":"C4","s":"G","x":900,"y":150,"lo":110,"hi":200},{"p":"C4","s":"G","x":1000,"y":158,"lo":115,"hi":200},
{"p":"C4","s":"R","x":0,"y":18,"lo":12,"hi":25},{"p":"C4","s":"R","x":50,"y":30,"lo":20,"hi":45},{"p":"C4","s":"R","x":100,"y":50,"lo":35,"hi":70},{"p":"C4","s":"R","x":150,"y":60,"lo":42,"hi":85},{"p":"C4","s":"R","x":200,"y":65,"lo":45,"hi":90},{"p":"C4","s":"R","x":300,"y":68,"lo":48,"hi":95},{"p":"C4","s":"R","x":400,"y":70,"lo":50,"hi":98},{"p":"C4","s":"R","x":500,"y":72,"lo":50,"hi":100},{"p":"C4","s":"R","x":600,"y":74,"lo":52,"hi":100},{"p":"C4","s":"R","x":700,"y":66,"lo":46,"hi":92},{"p":"C4","s":"R","x":800,"y":62,"lo":44,"hi":88},{"p":"C4","s":"R","x":900,"y":62,"lo":44,"hi":86},{"p":"C4","s":"R","x":1000,"y":58,"lo":42,"hi":80},
{"p":"C4","s":"B","x":0,"y":0,"lo":0,"hi":1},{"p":"C4","s":"B","x":500,"y":0,"lo":0,"hi":1},{"p":"C4","s":"B","x":1000,"y":0,"lo":0,"hi":1},
{"p":"C5","s":"G","x":0,"y":25,"lo":18,"hi":32},{"p":"C5","s":"G","x":50,"y":30,"lo":22,"hi":40},{"p":"C5","s":"G","x":100,"y":45,"lo":30,"hi":70},{"p":"C5","s":"G","x":150,"y":57,"lo":35,"hi":85},{"p":"C5","s":"G","x":200,"y":65,"lo":40,"hi":95},{"p":"C5","s":"G","x":250,"y":60,"lo":38,"hi":92},{"p":"C5","s":"G","x":300,"y":60,"lo":38,"hi":92},{"p":"C5","s":"G","x":400,"y":62,"lo":40,"hi":98},{"p":"C5","s":"G","x":450,"y":72,"lo":45,"hi":107},{"p":"C5","s":"G","x":500,"y":70,"lo":43,"hi":107},{"p":"C5","s":"G","x":550,"y":73,"lo":45,"hi":107},{"p":"C5","s":"G","x":600,"y":65,"lo":40,"hi":100},{"p":"C5","s":"G","x":700,"y":55,"lo":35,"hi":85},{"p":"C5","s":"G","x":750,"y":50,"lo":33,"hi":78},{"p":"C5","s":"G","x":800,"y":53,"lo":35,"hi":75},{"p":"C5","s":"G","x":900,"y":47,"lo":32,"hi":65},{"p":"C5","s":"G","x":1000,"y":42,"lo":30,"hi":52},
{"p":"C5","s":"R","x":0,"y":12,"lo":8,"hi":16},{"p":"C5","s":"R","x":50,"y":15,"lo":10,"hi":20},{"p":"C5","s":"R","x":100,"y":22,"lo":16,"hi":28},{"p":"C5","s":"R","x":150,"y":26,"lo":19,"hi":33},{"p":"C5","s":"R","x":200,"y":28,"lo":20,"hi":36},{"p":"C5","s":"R","x":250,"y":31,"lo":22,"hi":40},{"p":"C5","s":"R","x":300,"y":30,"lo":22,"hi":38},{"p":"C5","s":"R","x":400,"y":30,"lo":22,"hi":38},{"p":"C5","s":"R","x":500,"y":28,"lo":20,"hi":36},{"p":"C5","s":"R","x":600,"y":26,"lo":19,"hi":34},{"p":"C5","s":"R","x":700,"y":28,"lo":20,"hi":36},{"p":"C5","s":"R","x":800,"y":29,"lo":21,"hi":37},{"p":"C5","s":"R","x":900,"y":29,"lo":21,"hi":37},{"p":"C5","s":"R","x":1000,"y":29,"lo":21,"hi":37},
{"p":"C5","s":"B","x":0,"y":1,"lo":0,"hi":2},{"p":"C5","s":"B","x":500,"y":1.5,"lo":0.5,"hi":2.5},{"p":"C5","s":"B","x":1000,"y":1,"lo":0,"hi":2}
]},
"columns":5,
"facet":{"field":"p","type":"nominal","sort":"ascending","header":{"title":null,"labelExpr":"(datum.value[0]=='A'?'walker-walk':datum.value[0]=='B'?'cheetah-run':'humanoid-walk')+' '+['random','mixed','medium','medexp','expert'][toNumber(datum.value[1])-1]"}},
"spacing":{"row":24,"column":34},
"resolve":{"scale":{"y":"independent"}},
"spec":{"width":142,"height":91,
"encoding":{"x":{"field":"x","type":"quantitative","scale":{"domain":[0,1000],"nice":false},"axis":{"title":null,"values":[0,200,400,600,800,1000],"labelOverlap":false,"labelFlush":false,"format":"d"}}},
"layer":[
{"transform":[{"filter":"datum.s=='lim'"}],"mark":{"type":"rule","opacity":0},"encoding":{"y":{"field":"lo","type":"quantitative","scale":{"zero":true,"nice":false,"padding":4},"axis":{"title":null,"tickCount":4,"format":"d"}},"y2":{"field":"hi"}}},
{"transform":[{"filter":"datum.s!='lim'"}],"mark":{"type":"area","opacity":0.16},"encoding":{"y":{"field":"lo","type":"quantitative","axis":{"title":null,"tickCount":4,"format":"d"}},"y2":{"field":"hi"},"color":{"field":"s","type":"nominal","scale":{"domain":["B","R","T","P","G"],"range":["#1E90FF","#FF5722","#20B2A0","#8A6EF0","#C49A2C"]},"legend":null}}},
{"transform":[{"filter":"datum.s!='lim'"}],"mark":{"type":"line","strokeWidth":1.3},"encoding":{"y":{"field":"y","type":"quantitative","axis":{"title":null,"tickCount":4,"format":"d"}},"color":{"field":"s","type":"nominal","legend":null}}}
]}
}]
}
